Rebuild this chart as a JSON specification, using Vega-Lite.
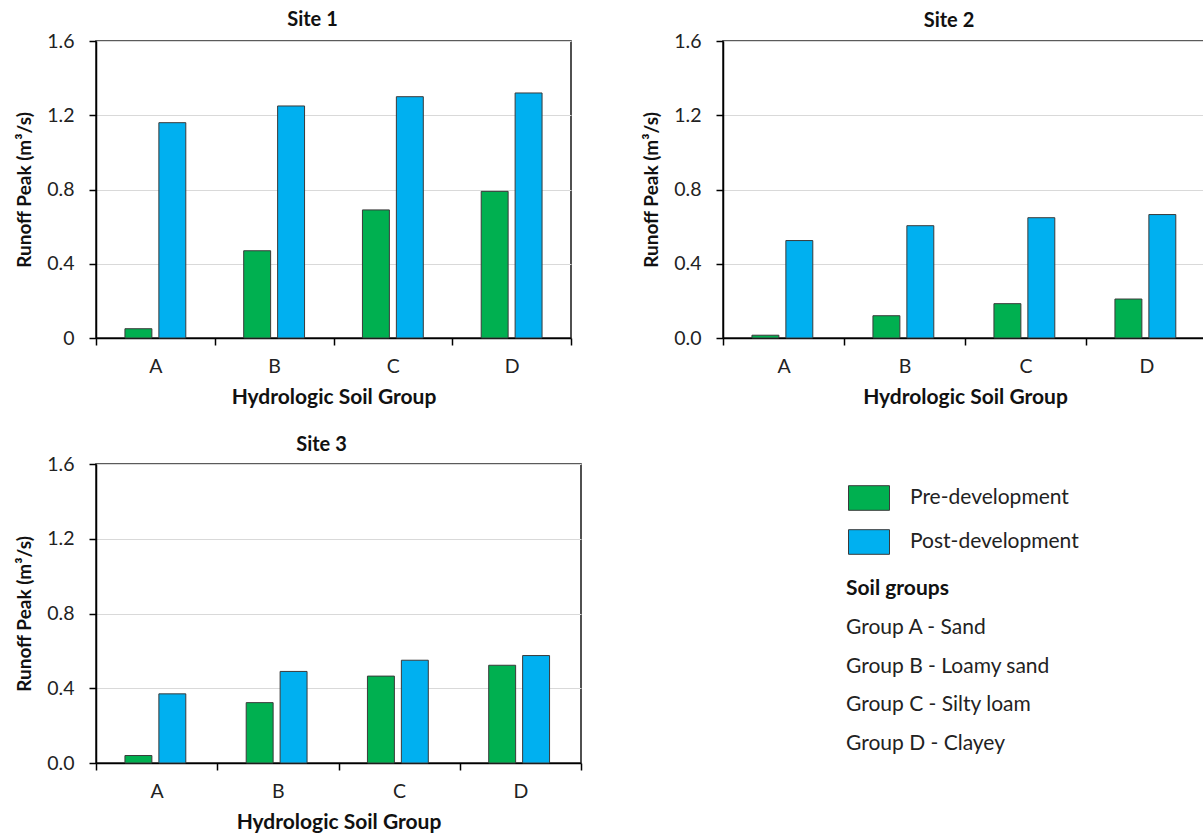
{
  "$schema": "https://vega.github.io/schema/vega-lite/v6.json",
  "padding": {"left": 14, "top": 9, "right": 0, "bottom": 0},
  "background": "white",
  "datasets": {
    "runoff": [
      {"site": "Site 1", "group": "A", "period": "Pre-development", "value": 0.05},
      {"site": "Site 1", "group": "B", "period": "Pre-development", "value": 0.47},
      {"site": "Site 1", "group": "C", "period": "Pre-development", "value": 0.69},
      {"site": "Site 1", "group": "D", "period": "Pre-development", "value": 0.79},
      {"site": "Site 1", "group": "A", "period": "Post-development", "value": 1.16},
      {"site": "Site 1", "group": "B", "period": "Post-development", "value": 1.25},
      {"site": "Site 1", "group": "C", "period": "Post-development", "value": 1.3},
      {"site": "Site 1", "group": "D", "period": "Post-development", "value": 1.32},
      {"site": "Site 2", "group": "A", "period": "Pre-development", "value": 0.015},
      {"site": "Site 2", "group": "B", "period": "Pre-development", "value": 0.12},
      {"site": "Site 2", "group": "C", "period": "Pre-development", "value": 0.185},
      {"site": "Site 2", "group": "D", "period": "Pre-development", "value": 0.21},
      {"site": "Site 2", "group": "A", "period": "Post-development", "value": 0.525},
      {"site": "Site 2", "group": "B", "period": "Post-development", "value": 0.605},
      {"site": "Site 2", "group": "C", "period": "Post-development", "value": 0.648},
      {"site": "Site 2", "group": "D", "period": "Post-development", "value": 0.665},
      {"site": "Site 3", "group": "A", "period": "Pre-development", "value": 0.04},
      {"site": "Site 3", "group": "B", "period": "Pre-development", "value": 0.323},
      {"site": "Site 3", "group": "C", "period": "Pre-development", "value": 0.465},
      {"site": "Site 3", "group": "D", "period": "Pre-development", "value": 0.523},
      {"site": "Site 3", "group": "A", "period": "Post-development", "value": 0.37},
      {"site": "Site 3", "group": "B", "period": "Post-development", "value": 0.49},
      {"site": "Site 3", "group": "C", "period": "Post-development", "value": 0.55},
      {"site": "Site 3", "group": "D", "period": "Post-development", "value": 0.575}
    ],
    "soil": [
      {"line": "Soil groups", "role": "heading"},
      {"line": "Group A -  Sand", "role": "item"},
      {"line": "Group B - Loamy sand", "role": "item"},
      {"line": "Group C - Silty loam", "role": "item"},
      {"line": "Group D - Clayey", "role": "item"}
    ]
  },
  "config": {
    "font": "Lato",
    "view": {"stroke": "#262626", "strokeWidth": 1.6},
    "axis": {
      "labelFont": "Lato", "labelFontSize": 19.5, "labelColor": "#222",
      "titleFont": "Lato", "titleFontWeight": "bold", "titleColor": "#111",
      "domainColor": "#000", "domainWidth": 1.5, "tickColor": "#000", "tickWidth": 1.5,
      "tickSize": 7, "gridColor": "#d9d9d9", "gridWidth": 1
    },
    "axisX": {"grid": false, "labelAngle": 0, "tickBand": "extent", "labelPadding": 12, "titlePadding": 11, "titleFontSize": 21},
    "axisY": {"grid": true, "labelPadding": 15, "titlePadding": 12, "titleFontSize": 19},
    "title": {"font": "Lato", "fontSize": 20, "fontWeight": "bold", "color": "#111"},
    "bar": {"stroke": "#3a3a3a", "strokeWidth": 1}
  },
  "spacing": 25,
  "vconcat": [
    {
      "spacing": 68,
      "hconcat": [
        {
          "title": {"text": "Site 1", "offset": 1, "dx": -21},
          "width": 475, "height": 297,
          "data": {"name": "runoff"},
          "transform": [{"filter": "datum.site == 'Site 1'"}],
          "mark": "bar",
          "encoding": {
            "x": {"field": "group", "type": "nominal", "scale": {"paddingInner": 0, "paddingOuter": 0}, "axis": {"title": "Hydrologic Soil Group"}},
            "xOffset": {"field": "period", "type": "nominal", "sort": ["Pre-development", "Post-development"], "scale": {"paddingInner": 0.206, "paddingOuter": 0.853}},
            "y": {"field": "value", "type": "quantitative", "scale": {"domain": [0, 1.6]}, "axis": {"values": [0, 0.4, 0.8, 1.2, 1.6], "format": ".1~f", "title": "Runoff Peak (m³/s)"}},
            "color": {"field": "period", "type": "nominal", "sort": ["Pre-development", "Post-development"],
              "scale": {"domain": ["Pre-development", "Post-development"], "range": ["#00B050", "#00B0F0"]},
              "legend": {"title": null, "orient": "none", "legendX": 752, "legendY": 436, "symbolType": "M-1,-0.6L1,-0.6L1,0.6L-1,0.6Z", "symbolSize": 1681, "symbolStrokeColor": "#3a3a3a", "symbolStrokeWidth": 1, "symbolOpacity": 1, "labelFontSize": 21, "labelFont": "Lato", "labelColor": "#222", "labelOffset": 20, "labelLimit": 0, "rowPadding": 8, "padding": 0}}
          }
        },
        {
          "title": {"text": "Site 2", "offset": 0, "dx": -16},
          "width": 484, "height": 297,
          "data": {"name": "runoff"},
          "transform": [{"filter": "datum.site == 'Site 2'"}],
          "mark": "bar",
          "encoding": {
            "x": {"field": "group", "type": "nominal", "scale": {"paddingInner": 0, "paddingOuter": 0}, "axis": {"title": "Hydrologic Soil Group"}},
            "xOffset": {"field": "period", "type": "nominal", "sort": ["Pre-development", "Post-development"], "scale": {"paddingInner": 0.206, "paddingOuter": 0.853}},
            "y": {"field": "value", "type": "quantitative", "scale": {"domain": [0, 1.6]}, "axis": {"values": [0, 0.4, 0.8, 1.2, 1.6], "format": ".1f", "title": "Runoff Peak (m³/s)"}},
            "color": {"field": "period", "type": "nominal", "sort": ["Pre-development", "Post-development"],
              "scale": {"domain": ["Pre-development", "Post-development"], "range": ["#00B050", "#00B0F0"]},
              "legend": {"title": null, "orient": "none", "legendX": 752, "legendY": 436, "symbolType": "M-1,-0.6L1,-0.6L1,0.6L-1,0.6Z", "symbolSize": 1681, "symbolStrokeColor": "#3a3a3a", "symbolStrokeWidth": 1, "symbolOpacity": 1, "labelFontSize": 21, "labelFont": "Lato", "labelColor": "#222", "labelOffset": 20, "labelLimit": 0, "rowPadding": 8, "padding": 0}}
          }
        }
      ]
    },
    {
      "spacing": 262,
      "hconcat": [
        {
          "title": {"text": "Site 3", "offset": -1, "dx": -17},
          "width": 485, "height": 299,
          "data": {"name": "runoff"},
          "transform": [{"filter": "datum.site == 'Site 3'"}],
          "mark": "bar",
          "encoding": {
            "x": {"field": "group", "type": "nominal", "scale": {"paddingInner": 0, "paddingOuter": 0}, "axis": {"title": "Hydrologic Soil Group"}},
            "xOffset": {"field": "period", "type": "nominal", "sort": ["Pre-development", "Post-development"], "scale": {"paddingInner": 0.206, "paddingOuter": 0.853}},
            "y": {"field": "value", "type": "quantitative", "scale": {"domain": [0, 1.6]}, "axis": {"values": [0, 0.4, 0.8, 1.2, 1.6], "format": ".1f", "title": "Runoff Peak (m³/s)"}},
            "color": {"field": "period", "type": "nominal", "sort": ["Pre-development", "Post-development"],
              "scale": {"domain": ["Pre-development", "Post-development"], "range": ["#00B050", "#00B0F0"]},
              "legend": {"title": null, "orient": "none", "legendX": 752, "legendY": 436, "symbolType": "M-1,-0.6L1,-0.6L1,0.6L-1,0.6Z", "symbolSize": 1681, "symbolStrokeColor": "#3a3a3a", "symbolStrokeWidth": 1, "symbolOpacity": 1, "labelFontSize": 21, "labelFont": "Lato", "labelColor": "#222", "labelOffset": 20, "labelLimit": 0, "rowPadding": 8, "padding": 0}}
          }
        },
        {
          "width": 2, "height": 300,
          "view": {"stroke": null},
          "data": {"name": "soil"},
          "encoding": {
            "y": {"field": "line", "type": "ordinal", "sort": ["Soil groups", "Group A -  Sand", "Group B - Loamy sand", "Group C - Silty loam", "Group D - Clayey"], "scale": {"type": "point", "range": [125, 280], "padding": 0}, "axis": null},
            "text": {"field": "line"}
          },
          "layer": [
            {"transform": [{"filter": "datum.role == 'heading'"}], "mark": {"type": "text", "align": "left", "baseline": "middle", "fontSize": 21, "fontWeight": "bold", "font": "Lato", "color": "#111"}},
            {"transform": [{"filter": "datum.role == 'item'"}], "mark": {"type": "text", "align": "left", "baseline": "middle", "fontSize": 21, "font": "Lato", "color": "#222"}}
          ]
        }
      ]
    }
  ]
}
